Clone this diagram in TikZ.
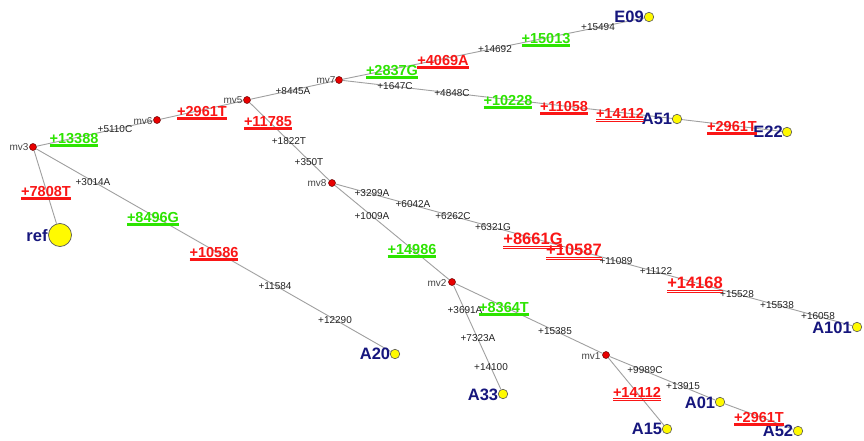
\documentclass[tikz,border=0pt]{standalone}
\usepackage{fontspec}
\setmainfont{Liberation Sans}
\definecolor{mgreen}{RGB}{45,228,0}
\definecolor{mred}{RGB}{250,22,22}
\definecolor{mnavy}{RGB}{22,22,125}
\definecolor{medge}{RGB}{160,160,160}
\definecolor{mtext}{RGB}{35,35,35}
\definecolor{mvgray}{RGB}{70,70,70}
\definecolor{dotred}{RGB}{232,0,0}
\definecolor{dotyel}{RGB}{255,250,0}
\newcommand\ulbox[1]{\vtop{\hbox{#1}\kern0.8pt\hrule height1.4pt\kern0.8pt\hrule height0.8pt}}
\tikzset{
  mvdot/.style={circle,inner sep=0pt,minimum size=7pt,fill=dotred,draw=black!60!red,line width=0.5pt},
  leafdot/.style={circle,inner sep=0pt,minimum size=9.5pt,fill=dotyel,draw=black!65,line width=0.6pt},
  refdot/.style={circle,inner sep=0pt,minimum size=23pt,fill=dotyel,draw=black!65,line width=0.7pt},
  edge/.style={draw=medge,line width=0.9pt},
  smalllab/.style={anchor=base,inner sep=0pt,yshift=-3.6pt,text=mtext,font=\fontsize{10}{12}\selectfont},
  mvlab/.style={smalllab,text=mvgray},
  glab/.style={anchor=base,inner sep=0pt,yshift=-5.2pt,text=mgreen,font=\bfseries\fontsize{14.5}{16}\selectfont},
  rlab/.style={glab,text=mred},
  rbig/.style={anchor=base,inner sep=0pt,yshift=-5.9pt,text=mred,font=\bfseries\fontsize{16.5}{18}\selectfont},
  leaflab/.style={anchor=base,inner sep=0pt,yshift=-5.9pt,text=mnavy,font=\bfseries\fontsize{16.5}{18}\selectfont}
}
\begin{document}
\begin{tikzpicture}[x=1pt,y=-1pt]
\useasboundingbox[fill=white] (0,0) rectangle (864,441);
% inner vertices
\node[mvdot] (mv3) at (33,147) {};
\node[mvdot] (mv6) at (157,120) {};
\node[mvdot] (mv5) at (247,100) {};
\node[mvdot] (mv7) at (339,80) {};
\node[mvdot] (mv8) at (332,183) {};
\node[mvdot] (mv2) at (452,282) {};
\node[mvdot] (mv1) at (606,355) {};
% leaves
\node[refdot] (ref) at (60,235) {};
\node[leafdot] (E09) at (649,17) {};
\node[leafdot] (A51) at (677,119) {};
\node[leafdot] (E22) at (787,132) {};
\node[leafdot] (A101) at (857,327) {};
\node[leafdot] (A20) at (395,354) {};
\node[leafdot] (A33) at (503,394) {};
\node[leafdot] (A15) at (667,429) {};
\node[leafdot] (A01) at (720,402) {};
\node[leafdot] (A52) at (798,431) {};
% edges
\draw[edge] (mv3) -- (ref);
\draw[edge] (mv3) -- (mv6);
\draw[edge] (mv6) -- (mv5);
\draw[edge] (mv5) -- (mv7);
\draw[edge] (mv7) -- (E09);
\draw[edge] (mv7) -- (A51);
\draw[edge] (A51) -- (E22);
\draw[edge] (mv5) -- (mv8);
\draw[edge] (mv8) -- (mv2);
\draw[edge] (mv8) -- (A101);
\draw[edge] (mv3) -- (A20);
\draw[edge] (mv2) -- (A33);
\draw[edge] (mv2) -- (mv1);
\draw[edge] (mv1) -- (A15);
\draw[edge] (mv1) -- (A01);
\draw[edge] (A01) -- (A52);
% vertex names
\node[mvlab] (l-mv3) at (19,147) {mv3};
\node[mvlab] (l-mv6) at (143,121) {mv6};
\node[mvlab] (l-mv5) at (233,100) {mv5};
\node[mvlab] (l-mv7) at (326,80) {mv7};
\node[mvlab] (l-mv8) at (317,183) {mv8};
\node[mvlab] (l-mv2) at (437,283) {mv2};
\node[mvlab] (l-mv1) at (591,356) {mv1};
% leaf names
\node[leaflab] (l-ref) at (37,236) {ref};
\node[leaflab] (l-E09) at (629,17) {E09};
\node[leaflab] (l-A51) at (657,119) {A51};
\node[leaflab] (l-E22) at (768,132) {E22};
\node[leaflab] (l-A101) at (832,328) {A101};
\node[leaflab] (l-A20) at (375,354) {A20};
\node[leaflab] (l-A33) at (483,395) {A33};
\node[leaflab] (l-A15) at (647,429) {A15};
\node[leaflab] (l-A01) at (700,403) {A01};
\node[leaflab] (l-A52) at (778,431) {A52};
% mutation labels: mv3 branch
\node[glab] (m1) at (74,138) {\ulbox{+13388}};
\node[smalllab] (m2) at (115,129) {+5110C};
\node[rlab] (m3) at (202,111) {\ulbox{+2961T}};
\node[rlab] (m4) at (46,191) {\ulbox{+7808T}};
\node[smalllab] (m5) at (93,182) {+3014A};
\node[glab] (m6) at (153,217) {\ulbox{+8496G}};
\node[rlab] (m7) at (214,252) {\ulbox{+10586}};
\node[smalllab] (m8) at (275,286) {+11584};
\node[smalllab] (m9) at (335,320) {+12290};
% mv5 / mv7
\node[smalllab] (m10) at (293,91) {+8445A};
\node[rlab] (m11) at (268,121) {\ulbox{+11785}};
\node[smalllab] (m12) at (289,141) {+1822T};
\node[smalllab] (m13) at (309,162) {+350T};
\node[glab] (m14) at (392,70) {\ulbox{+2837G}};
\node[rlab] (m15) at (443,60) {\ulbox{+4069A}};
\node[smalllab] (m16) at (495,49) {+14692};
\node[glab] (m17) at (546,38) {\ulbox{+15013}};
\node[smalllab] (m18) at (598,27) {+15494};
\node[smalllab] (m19) at (395,86) {+1647C};
\node[smalllab] (m20) at (452,93) {+4848C};
\node[glab] (m21) at (508,100) {\ulbox{+10228}};
\node[rlab] (m22) at (564,106) {\ulbox{+11058}};
\node[rlab] (m23) at (620,113) {\ulbox{+14112}};
\node[rlab] (m24) at (732,126) {\ulbox{+2961T}};
% mv8 branch
\node[smalllab] (m25) at (372,193) {+3299A};
\node[smalllab] (m26) at (413,204) {+6042A};
\node[smalllab] (m27) at (453,216) {+6262C};
\node[smalllab] (m28) at (493,227) {+6321G};
\node[rbig] (m29) at (533,239) {\ulbox{+8661G}};
\node[rbig] (m30) at (574,250) {\ulbox{+10587}};
\node[smalllab] (m31) at (616,261) {+11089};
\node[smalllab] (m32) at (656,271) {+11122};
\node[rbig] (m33) at (695,283) {\ulbox{+14168}};
\node[smalllab] (m34) at (737,294) {+15528};
\node[smalllab] (m35) at (777,305) {+15538};
\node[smalllab] (m36) at (818,316) {+16058};
\node[smalllab] (m37) at (372,216) {+1009A};
\node[glab] (m38) at (412,249) {\ulbox{+14986}};
% mv2 / mv1
\node[smalllab] (m39) at (465,310) {+3691A};
\node[glab] (m40) at (504,307) {\ulbox{+8364T}};
\node[smalllab] (m41) at (478,338) {+7323A};
\node[smalllab] (m42) at (491,367) {+14100};
\node[smalllab] (m43) at (555,331) {+15385};
\node[smalllab] (m44) at (645,370) {+9989C};
\node[smalllab] (m45) at (683,386) {+13915};
\node[rlab] (m46) at (637,392) {\ulbox{+14112}};
\node[rlab] (m47) at (759,417) {\ulbox{+2961T}};
\end{tikzpicture}
\end{document}
